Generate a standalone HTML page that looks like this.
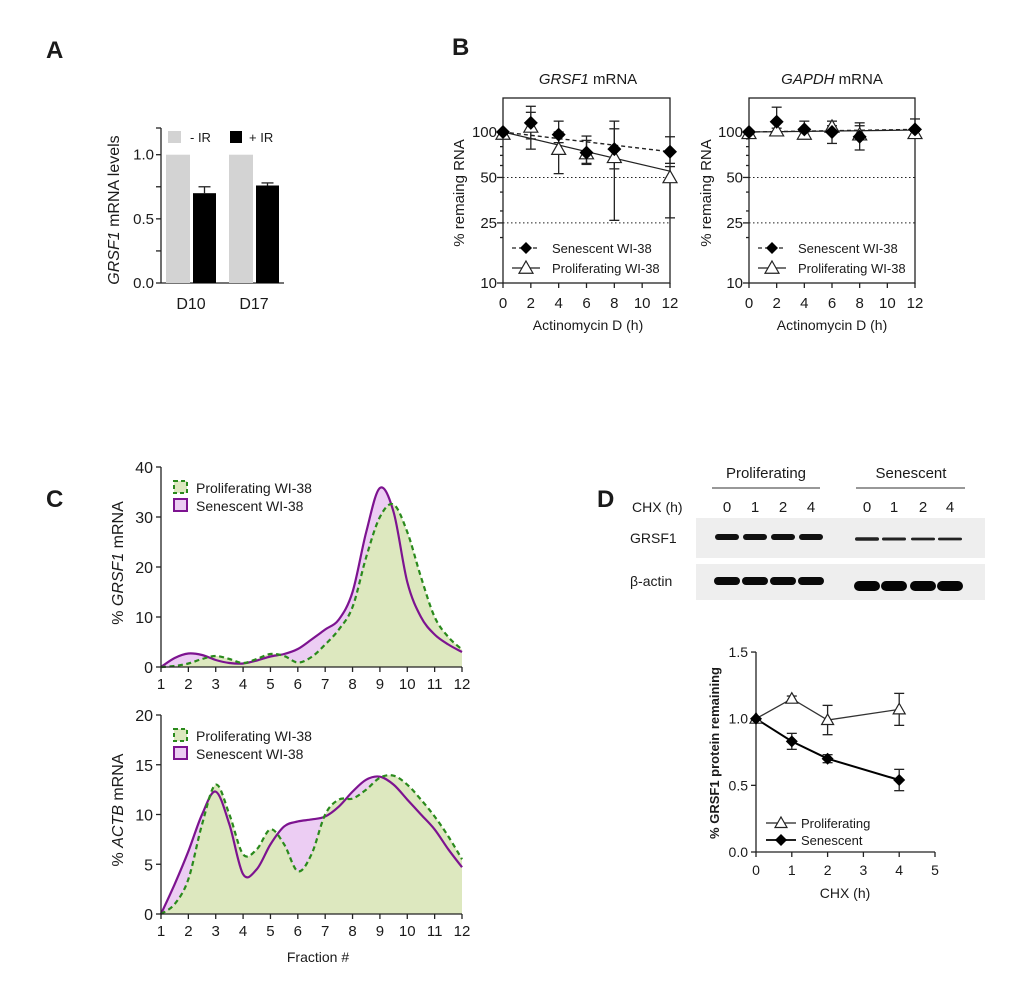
<!DOCTYPE html>
<html><head><meta charset="utf-8"><style>
html,body{margin:0;padding:0;background:#fff}
svg{display:block;font-family:"Liberation Sans",Arial,sans-serif}
text{fill:#1a1a1a}
</style></head><body>
<svg id="fig" width="1020" height="1001" viewBox="0 0 1020 1001">
<text x="46" y="58" font-size="24" font-weight="bold">A</text>
<text x="452" y="55" font-size="24" font-weight="bold">B</text>
<text x="46" y="507" font-size="24" font-weight="bold">C</text>
<text x="597" y="507" font-size="24" font-weight="bold">D</text>

<g id="panelA">
<text transform="translate(119,210) rotate(-90)" text-anchor="middle" font-size="16"><tspan font-style="italic">GRSF1</tspan> mRNA levels</text>
<rect x="168" y="131" width="13" height="12" fill="#d3d3d3"/>
<text x="190" y="142" font-size="13">- IR</text>
<rect x="230" y="131" width="12" height="12" fill="#000"/>
<text x="249" y="142" font-size="13">+ IR</text>
</g>

<text x="588" y="84" text-anchor="middle" font-size="15"><tspan font-style="italic">GRSF1</tspan> mRNA</text>
<text x="832" y="84" text-anchor="middle" font-size="15"><tspan font-style="italic">GAPDH</tspan> mRNA</text>
<text transform="translate(464,193) rotate(-90)" text-anchor="middle" font-size="15">% remaing RNA</text>
<text transform="translate(711,193) rotate(-90)" text-anchor="middle" font-size="15">% remaing RNA</text>
<text x="588" y="330" text-anchor="middle" font-size="14">Actinomycin D (h)</text>
<text x="832" y="330" text-anchor="middle" font-size="14">Actinomycin D (h)</text>

<text transform="translate(123,563) rotate(-90)" text-anchor="middle" font-size="16">% <tspan font-style="italic">GRSF1</tspan> mRNA</text>
<text transform="translate(123,810) rotate(-90)" text-anchor="middle" font-size="16">% <tspan font-style="italic">ACTB</tspan> mRNA</text>
<text x="318" y="962" text-anchor="middle" font-size="14">Fraction #</text>

<g>
<text x="766" y="478" text-anchor="middle" font-size="15">Proliferating</text>
<line x1="712" y1="488" x2="820" y2="488" stroke="#777" stroke-width="1.5"/>
<text x="911" y="478" text-anchor="middle" font-size="15">Senescent</text>
<line x1="856" y1="488" x2="965" y2="488" stroke="#777" stroke-width="1.5"/>
<text x="632" y="512" font-size="14">CHX (h)</text>
<text x="630" y="543" font-size="14">GRSF1</text>
<text x="630" y="586" font-size="14">β-actin</text>
<rect x="696" y="518" width="289" height="40" fill="#eeeeee"/>
<rect x="696" y="564" width="289" height="36" fill="#eeeeee"/>
</g>
<text transform="translate(719,753) rotate(-90)" text-anchor="middle" font-size="13" font-weight="bold">% GRSF1 protein remaining</text>
<text x="845" y="898" text-anchor="middle" font-size="14">CHX (h)</text>
</svg>
<script>
const aCategories = ["D10", "D17"];
const aMinusIR = [1.0, 1.0];
const aPlusIR = [0.70, 0.76];
const aPlusIRErr = [0.05, 0.02];
const aTicks = [0, 0.5, 1.0];
const bTimes = [0, 2, 4, 6, 8, 12];
const bXTicks = [0, 2, 4, 6, 8, 10, 12];
const bYTicks = [10, 25, 50, 100];
const grsfSen = [100, 115, 96, 73, 77, 74];
const grsfSenLo = [100, 77, 85, 61, 57, 62];
const grsfSenHi = [100, 148, 118, 94, 105, 93];
const grsfPro = [97, 108, 77, 72, 68, 50];
const grsfProLo = [97, 90, 53, 62, 26, 27];
const grsfProHi = [97, 135, 100, 88, 118, 59];
const grsfSenFit = [100, 74];
const grsfProFit = [100, 55];
const gapSen = [100, 117, 104, 100, 93, 104];
const gapSenLo = [100, 100, 95, 84, 76, 95];
const gapSenHi = [100, 146, 118, 110, 115, 122];
const gapPro = [98, 102, 97, 108, 96, 98];
const gapProLo = [98, 98, 94, 100, 90, 95];
const gapProHi = [98, 106, 100, 118, 110, 101];
const gapSenFit = [100, 104];
const gapProFit = [100, 103];
const cFractions = [1,1.5,2,2.5,3,3.5,4,4.5,5,5.5,6,6.5,7,7.5,8,8.5,9,9.5,10,10.5,11,11.5,12];
const cXTicks = [1,2,3,4,5,6,7,8,9,10,11,12];
const grsfProfPro = [0,0.2,0.7,1.6,2.2,1.6,0.8,1.6,2.6,2.2,0.9,2,4.5,7.5,12,22,30,32.5,27,18,10,6,3.5];
const grsfProfSen = [0,1.8,2.7,2.4,1.4,0.8,0.7,1.3,2.1,2.6,3.6,5.5,7.5,9.5,15,27,35.8,31,17,10,6.5,4.5,3];
const actbProfPro = [0,1,3.5,9,13,10,6,6.5,8.5,7,4.3,6,10,11.5,11.6,12.5,13.7,13.9,13,11.5,9.8,7.8,5.5];
const actbProfSen = [0,3,6.3,10,12.3,9,4,4.5,7,8.8,9.3,9.5,9.8,10.8,12.3,13.5,13.8,13,11.5,10,8.5,6.5,4.7];
const c1YTicks = [0,10,20,30,40];
const c2YTicks = [0,5,10,15,20];
const dLanes = ["0","1","2","4"];
const dGrsfPro = [1, 1, 1, 1];
const dGrsfSen = [0.6, 0.5, 0.45, 0.45];
const dTimes = [0, 1, 2, 4];
const dPro = [1.0, 1.15, 0.99, 1.07];
const dProErr = [0, 0.02, 0.11, 0.12];
const dSen = [1.0, 0.83, 0.70, 0.54];
const dSenErr = [0, 0.06, 0.03, 0.08];
const dXTicks = [0,1,2,3,4,5];
const dYTicks = [0, 0.5, 1.0, 1.5];

const svg = document.getElementById('fig');
const NS = 'http://www.w3.org/2000/svg';
function mk(tag, attrs, nm, inter) {
  const el = document.createElementNS(NS, tag);
  for (const k in attrs) el.setAttribute(k, attrs[k]);
  
  
  svg.appendChild(el);
  return el;
}
function txt(x, y, s, size, anchor, nm) {
  const t = mk('text', {x: x, y: y, 'font-size': size, 'text-anchor': anchor || 'middle'}, nm, false);
  t.textContent = s;
  return t;
}
function line(x1, y1, x2, y2, nm, extra) {
  const a = Object.assign({x1: x1, y1: y1, x2: x2, y2: y2, stroke: '#222', 'stroke-width': 1.3}, extra || {});
  return mk('line', a, nm, false);
}
function smooth(pts) {
  let d = 'M' + pts[0][0] + ',' + pts[0][1];
  for (let i = 0; i < pts.length - 1; i++) {
    const p0 = pts[Math.max(0, i - 1)], p1 = pts[i], p2 = pts[i + 1], p3 = pts[Math.min(pts.length - 1, i + 2)];
    const c1x = p1[0] + (p2[0] - p0[0]) / 6, c1y = p1[1] + (p2[1] - p0[1]) / 6;
    const c2x = p2[0] - (p3[0] - p1[0]) / 6, c2y = p2[1] - (p3[1] - p1[1]) / 6;
    d += ' C' + c1x + ',' + c1y + ' ' + c2x + ',' + c2y + ' ' + p2[0] + ',' + p2[1];
  }
  return d;
}
function diamond(x, y, r, nm) {
  return mk('path', {d: `M${x},${y - r}L${x + r},${y}L${x},${y + r}L${x - r},${y}Z`, fill: '#000'}, nm, false);
}
function tri(x, y, r, nm) {
  return mk('path', {d: `M${x},${y - r}L${x + r},${y + r * 0.75}L${x - r},${y + r * 0.75}Z`, fill: '#fff', stroke: '#222', 'stroke-width': 1.2}, nm, false);
}
function errbar(x, y1, y2, w, nm) {
  line(x, y1, x, y2, nm);
  line(x - w, y1, x + w, y1, nm + '-cap-top');
  line(x - w, y2, x + w, y2, nm + '-cap-bottom');
}

(function () {
  const yA = v => 283 - v * 128.3;
  const x0 = 161;
  line(x0, 128, x0, 283, 'panel-a-y-axis');
  line(x0, 283, 284, 283, 'panel-a-x-axis');
  [0, 0.25, 0.5, 0.75, 1.0].forEach(v => line(x0 - 5, yA(v), x0, yA(v), 'panel-a-y-tick'));
  line(x0 - 5, 128, x0, 128, 'panel-a-y-tick');
  aTicks.forEach(v => txt(x0 - 7, yA(v) + 5, v.toFixed(1), 15, 'end', 'panel-a-y-tick-label'));
  const groupX = [166, 229];
  aCategories.forEach((c, i) => {
    const gx = groupX[i];
    mk('rect', {x: gx, y: yA(aMinusIR[i]), width: 24, height: 283 - yA(aMinusIR[i]), fill: '#d3d3d3'}, 'bar-minus-ir-' + c, false);
    mk('rect', {x: gx + 27, y: yA(aPlusIR[i]), width: 23, height: 283 - yA(aPlusIR[i]), fill: '#000'}, 'bar-plus-ir-' + c, false);
    const ex = gx + 38.5;
    line(ex, yA(aPlusIR[i]), ex, yA(aPlusIR[i] + aPlusIRErr[i]), 'error-bar-plus-ir');
    line(ex - 6, yA(aPlusIR[i] + aPlusIRErr[i]), ex + 6, yA(aPlusIR[i] + aPlusIRErr[i]), 'error-cap-plus-ir');
    txt(gx + 25, 309, c, 16, 'middle', 'panel-a-x-label-' + c);
  });
})();

function panelB(x0, x1, key, sen, senLo, senHi, pro, proLo, proHi, senFit, proFit) {
  const yB = v => 283 - (Math.log10(v) - 1) * 151;
  const xB = t => x0 + t * (x1 - x0) / 12;
  mk('rect', {x: x0, y: 98, width: x1 - x0, height: 185, fill: 'none', stroke: '#222', 'stroke-width': 1.3}, key + '-plot-frame', false);
  [50, 25].forEach(v => line(x0, yB(v), x1, yB(v), key + '-dotted-ref-' + v, {'stroke-dasharray': '1.5,2.5', 'stroke-width': 1}));
  [20,30,40,60,70,80,90,200].forEach(v => { if (yB(v) > 98) line(x0 - 3, yB(v), x0, yB(v), key + '-y-minor-tick'); });
  bYTicks.forEach(v => { line(x0 - 6, yB(v), x0, yB(v), key + '-y-tick'); txt(x0 - 6, yB(v) + 5, String(v), 15, 'end', key + '-y-tick-label'); });
  bXTicks.forEach(t => { line(xB(t), 283, xB(t), 288, key + '-x-tick'); txt(xB(t), 308, String(t), 15, 'middle', key + '-x-tick-label'); });
  line(xB(0), yB(senFit[0]), xB(12), yB(senFit[1]), key + '-senescent-fit', {'stroke-dasharray': '4,3', 'stroke-width': 1.4});
  line(xB(0), yB(proFit[0]), xB(12), yB(proFit[1]), key + '-proliferating-fit', {'stroke-width': 1.2});
  bTimes.forEach((t, i) => {
    errbar(xB(t), yB(proLo[i]), yB(proHi[i]), 5, key + '-proliferating-error');
    errbar(xB(t), yB(senLo[i]), yB(senHi[i]), 5, key + '-senescent-error');
  });
  bTimes.forEach((t, i) => tri(xB(t), yB(pro[i]), 7, key + '-proliferating-point'));
  bTimes.forEach((t, i) => diamond(xB(t), yB(sen[i]), 7, key + '-senescent-point'));
  const lx = x0 + 9;
  line(lx, 248, lx + 28, 248, key + '-legend-senescent-line', {'stroke-dasharray': '4,3'});
  diamond(lx + 14, 248, 6, key + '-legend-senescent-marker');
  txt(lx + 40, 253, 'Senescent WI-38', 13, 'start', key + '-legend-senescent');
  line(lx, 268, lx + 28, 268, key + '-legend-proliferating-line');
  tri(lx + 14, 268, 7, key + '-legend-proliferating-marker');
  txt(lx + 40, 273, 'Proliferating WI-38', 13, 'start', key + '-legend-proliferating');
}
panelB(503, 670, 'grsf1', grsfSen, grsfSenLo, grsfSenHi, grsfPro, grsfProLo, grsfProHi, grsfSenFit, grsfProFit);
panelB(749, 915, 'gapdh', gapSen, gapSenLo, gapSenHi, gapPro, gapProLo, gapProHi, gapSenFit, gapProFit);

function panelC(y0, yTop, ymax, ticks, pro, sen, key) {
  const xC = f => 161 + (f - 1) * (462 - 161) / 11;
  const yC = v => y0 - v * (y0 - yTop) / ymax;
  const pp = cFractions.map((f, i) => [xC(f), yC(pro[i])]);
  const ps = cFractions.map((f, i) => [xC(f), yC(sen[i])]);
  const base = ` L${xC(12)},${y0} L${xC(1)},${y0} Z`;
  mk('path', {d: smooth(ps) + base, fill: '#eccdf3'}, key + '-senescent-area', false);
  mk('path', {d: smooth(pp) + base, fill: '#dde8bf'}, key + '-proliferating-area', false);
  mk('path', {d: smooth(ps), fill: 'none', stroke: '#7d1390', 'stroke-width': 2.2}, key + '-senescent-line', false);
  mk('path', {d: smooth(pp), fill: 'none', stroke: '#2a8a1c', 'stroke-width': 2.2, 'stroke-dasharray': '5,3.5'}, key + '-proliferating-line', false);
  line(161, yTop, 161, y0, key + '-y-axis');
  line(161, y0, 462, y0, key + '-x-axis');
  ticks.forEach(v => { line(156, yC(v), 161, yC(v), key + '-y-tick'); txt(153, yC(v) + 6, String(v), 16, 'end', key + '-y-tick-label'); });
  cXTicks.forEach(f => { line(xC(f), y0, xC(f), y0 + 5, key + '-x-tick'); txt(xC(f), y0 + 22, String(f), 15, 'middle', key + '-x-tick-label'); });
  const ly = yTop + 14;
  mk('rect', {x: 174, y: ly, width: 13, height: 12, fill: '#dde8bf', stroke: '#2a8a1c', 'stroke-width': 2, 'stroke-dasharray': '4,3'}, key + '-legend-proliferating-swatch', false);
  txt(196, ly + 12, 'Proliferating WI-38', 14, 'start', key + '-legend-proliferating');
  mk('rect', {x: 174, y: ly + 18, width: 13, height: 12, fill: '#eccdf3', stroke: '#7d1390', 'stroke-width': 2}, key + '-legend-senescent-swatch', false);
  txt(196, ly + 30, 'Senescent WI-38', 14, 'start', key + '-legend-senescent');
}
panelC(667, 467, 40, c1YTicks, grsfProfPro, grsfProfSen, 'grsf1-profile');
panelC(914, 715, 20, c2YTicks, actbProfPro, actbProfSen, 'actb-profile');

const laneXPro = [727, 755, 783, 811];
const laneXSen = [867, 894, 923, 950];
dLanes.forEach((l, i) => {
  txt(laneXPro[i], 512, l, 15, 'middle', 'lane-label-proliferating');
  txt(laneXSen[i], 512, l, 15, 'middle', 'lane-label-senescent');
  const hp = 5 * dGrsfPro[i] + 1;
  mk('rect', {x: laneXPro[i] - 12, y: 537 - hp / 2, width: 24, height: hp, rx: hp / 2, fill: '#111'}, 'band-grsf1-proliferating', false);
  const hs = 5 * dGrsfSen[i] + 0.5;
  mk('rect', {x: laneXSen[i] - 12, y: 539 - hs / 2, width: 24, height: hs, rx: hs / 2, fill: '#222'}, 'band-grsf1-senescent', false);
  mk('rect', {x: laneXPro[i] - 13, y: 577, width: 26, height: 8, rx: 4, fill: '#0a0a0a'}, 'band-actin-proliferating', false);
  mk('rect', {x: laneXSen[i] - 13, y: 581, width: 26, height: 10, rx: 5, fill: '#050505'}, 'band-actin-senescent', false);
});

(function () {
  const xD = t => 756 + t * 35.8;
  const yD = v => 852 - v * 133.3;
  line(756, 652, 756, 852, 'panel-d-y-axis');
  line(756, 852, 935, 852, 'panel-d-x-axis');
  dYTicks.forEach(v => { line(751, yD(v), 756, yD(v), 'panel-d-y-tick'); txt(748, yD(v) + 5, v.toFixed(1), 14, 'end', 'panel-d-y-tick-label'); });
  dXTicks.forEach(t => { line(xD(t), 852, xD(t), 857, 'panel-d-x-tick'); txt(xD(t), 875, String(t), 14, 'middle', 'panel-d-x-tick-label'); });
  mk('polyline', {points: dTimes.map((t, i) => xD(t) + ',' + yD(dPro[i])).join(' '), fill: 'none', stroke: '#333', 'stroke-width': 1.3}, 'panel-d-proliferating-line', false);
  mk('polyline', {points: dTimes.map((t, i) => xD(t) + ',' + yD(dSen[i])).join(' '), fill: 'none', stroke: '#000', 'stroke-width': 2}, 'panel-d-senescent-line', false);
  dTimes.forEach((t, i) => {
    if (dProErr[i] > 0) errbar(xD(t), yD(dPro[i] - dProErr[i]), yD(dPro[i] + dProErr[i]), 5, 'panel-d-proliferating-error');
    if (dSenErr[i] > 0) errbar(xD(t), yD(dSen[i] - dSenErr[i]), yD(dSen[i] + dSenErr[i]), 5, 'panel-d-senescent-error');
  });
  dTimes.forEach((t, i) => tri(xD(t), yD(dPro[i]), 6, 'panel-d-proliferating-point'));
  dTimes.forEach((t, i) => diamond(xD(t), yD(dSen[i]), 6, 'panel-d-senescent-point'));
  line(766, 823, 796, 823, 'panel-d-legend-proliferating-line');
  tri(781, 823, 6, 'panel-d-legend-proliferating-marker');
  txt(801, 828, 'Proliferating', 13, 'start', 'panel-d-legend-proliferating');
  line(766, 840, 796, 840, 'panel-d-legend-senescent-line', {'stroke-width': 2});
  diamond(781, 840, 6, 'panel-d-legend-senescent-marker');
  txt(801, 845, 'Senescent', 13, 'start', 'panel-d-legend-senescent');
})();
</script>
</body></html>
